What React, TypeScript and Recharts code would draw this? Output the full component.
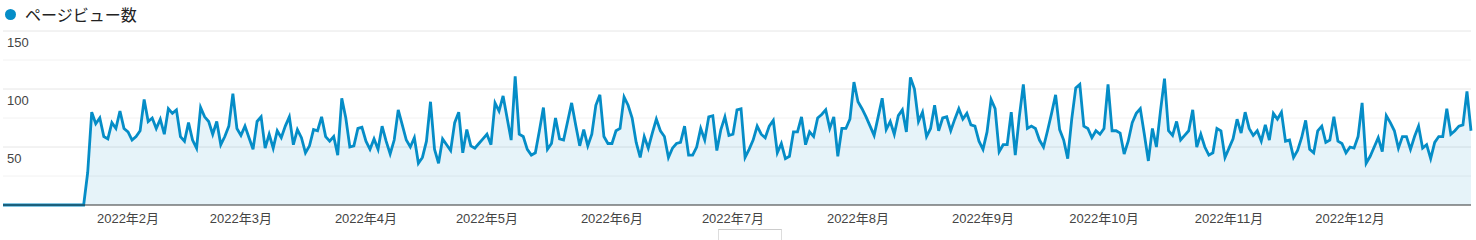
import React from 'react';
import { AreaChart, Area, XAxis, YAxis, CartesianGrid, ReferenceLine } from 'recharts';

// daily page views, 2022, one array per month
const JAN = [0, 0, 0, 0, 0, 0, 0, 0, 0, 0, 0, 0, 0, 0, 0, 0, 0, 0, 0, 0, 0, 28, 80, 70, 75, 59, 57, 71, 66, 81, 66];
const FEB = [63, 56, 59, 64, 91, 72, 75, 66, 74, 61, 83, 79, 82, 59, 55, 71, 56, 49, 84, 76, 72, 61, 72, 52, 59, 68, 96, 66];
const MAR = [60, 68, 58, 48, 72, 76, 49, 61, 49, 64, 58, 68, 76, 52, 65, 58, 45, 51, 65, 64, 76, 59, 55, 59, 43, 92, 75, 50, 51, 66, 67];
const APR = [55, 48, 57, 48, 68, 55, 44, 56, 82, 69, 56, 50, 58, 36, 41, 55, 89, 48, 36, 57, 52, 47, 71, 80, 45, 65, 51, 49, 53, 57];
const MAY = [61, 52, 88, 81, 94, 75, 56, 111, 61, 59, 48, 43, 45, 64, 84, 48, 53, 75, 57, 56, 72, 88, 69, 51, 65, 51, 61, 86, 95, 59, 53];
const JUN = [53, 64, 66, 93, 86, 75, 54, 41, 59, 49, 62, 74, 64, 59, 41, 49, 53, 54, 68, 43, 43, 50, 66, 56, 76, 77, 47, 65, 76, 60];
const JUL = [61, 82, 83, 41, 48, 56, 68, 61, 58, 68, 73, 45, 53, 40, 42, 63, 63, 76, 52, 63, 59, 75, 78, 82, 66, 76, 42, 66, 66, 74, 106];
const AUG = [89, 83, 76, 68, 60, 76, 92, 65, 72, 61, 77, 82, 63, 110, 100, 72, 80, 59, 66, 86, 64, 75, 76, 64, 74, 83, 74, 79, 69, 68, 55];
const SEP = [48, 63, 91, 83, 46, 52, 52, 80, 43, 76, 104, 66, 68, 66, 56, 50, 64, 79, 95, 65, 56, 40, 74, 101, 104, 68, 66, 58, 64, 61];
const OCT = [66, 104, 64, 64, 62, 44, 55, 71, 79, 83, 61, 38, 66, 50, 81, 109, 64, 60, 72, 56, 60, 64, 82, 50, 61, 50, 43, 45, 66, 64, 41];
const NOV = [49, 57, 74, 62, 80, 66, 60, 64, 55, 69, 56, 79, 74, 80, 55, 56, 41, 47, 58, 73, 48, 45, 64, 68, 54, 56, 76, 55, 53, 45];
const DEC = [50, 49, 59, 88, 36, 42, 50, 58, 46, 77, 71, 64, 49, 59, 59, 48, 59, 68, 49, 52, 40, 54, 59, 59, 83, 61, 64, 68, 69, 98, 64];

const MONTHS = [JAN, FEB, MAR, APR, MAY, JUN, JUL, AUG, SEP, OCT, NOV, DEC];
const MONTH_LABELS = ['2022年1月', '2022年2月', '2022年3月', '2022年4月', '2022年5月', '2022年6月',
  '2022年7月', '2022年8月', '2022年9月', '2022年10月', '2022年11月', '2022年12月'];
const Y_LABELS = [50, 100, 150];
const MINOR_LINES = [25, 75, 125];
const SERIES_NAME = 'ページビュー数';

const BLUE = '#058DC7';
const FONT = '"Liberation Sans", Arial, "Noto Sans CJK JP", sans-serif';

const pad = (n: number) => String(n).padStart(2, '0');
const dateKey = (m: number, d: number) => `2022-${pad(m + 1)}-${pad(d + 1)}`;

const data = MONTHS.flatMap((days, m) => days.map((v, d) => ({ date: dateKey(m, d), views: v })));
// ticks on the 1st of each month, Jan skipped like the original
const monthTicks = MONTHS.slice(1).map((_, i) => dateKey(i + 1, 0));
const labelFor = (key: string) => MONTH_LABELS[Number(key.slice(5, 7)) - 1];

const XTick = ({ x, payload }: any) => (
  <text x={x} y={223} textAnchor="middle" fill="#444" fontSize={13} fontFamily={FONT}>
    {labelFor(payload.value)}
  </text>
);

// y labels sit just under their gridline, at the far left
const YLabel = ({ viewBox, value }: any) => (
  <text x={7} y={viewBox.y + 16} textAnchor="start" fill="#444" fontSize={13} fontFamily={FONT}>
    {value}
  </text>
);

export default function App() {
  return (
    <div style={{ position: 'absolute', left: 0, top: 0, width: 1476, height: 240, background: '#fff', fontFamily: FONT }}>
      <div style={{ position: 'absolute', left: 5, top: 4, display: 'flex', alignItems: 'center', height: 20 }}>
        <span style={{ width: 11, height: 11, borderRadius: '50%', background: BLUE, display: 'inline-block' }} />
        <span style={{ marginLeft: 9, fontSize: 16, color: '#222', fontFamily: '"Noto Sans CJK JP", sans-serif' }}>{SERIES_NAME}</span>
      </div>
      <div style={{ position: 'absolute', left: 718, top: 229, width: 62, height: 14, borderTop: '1px solid #ccc', borderLeft: '1px solid #ddd', borderRight: '1px solid #ddd' }} />
      <AreaChart width={1476} height={240} data={data} margin={{ top: 31, right: 5, bottom: 5, left: 3 }}>
        <CartesianGrid vertical={false} horizontalValues={MINOR_LINES} stroke="#f2f2f2" />
        <CartesianGrid vertical={false} horizontalValues={Y_LABELS} stroke="#e6e6e6" />
        <XAxis
          dataKey="date"
          ticks={monthTicks}
          interval={0}
          tick={<XTick />}
          tickLine={false}
          axisLine={{ stroke: '#333' }}
          height={30}
        />
        <YAxis domain={[0, 150]} hide />
        <Area
          type="linear"
          dataKey="views"
          name={SERIES_NAME}
          stroke={BLUE}
          strokeWidth={2.8}
          fill={BLUE}
          fillOpacity={0.1}
          dot={false}
          activeDot={false}
          isAnimationActive={false}
        />
        {Y_LABELS.map(v => (
          <ReferenceLine key={'y' + v} y={v} stroke="none" label={<YLabel value={v} />} />
        ))}
      </AreaChart>
    </div>
  );
}
